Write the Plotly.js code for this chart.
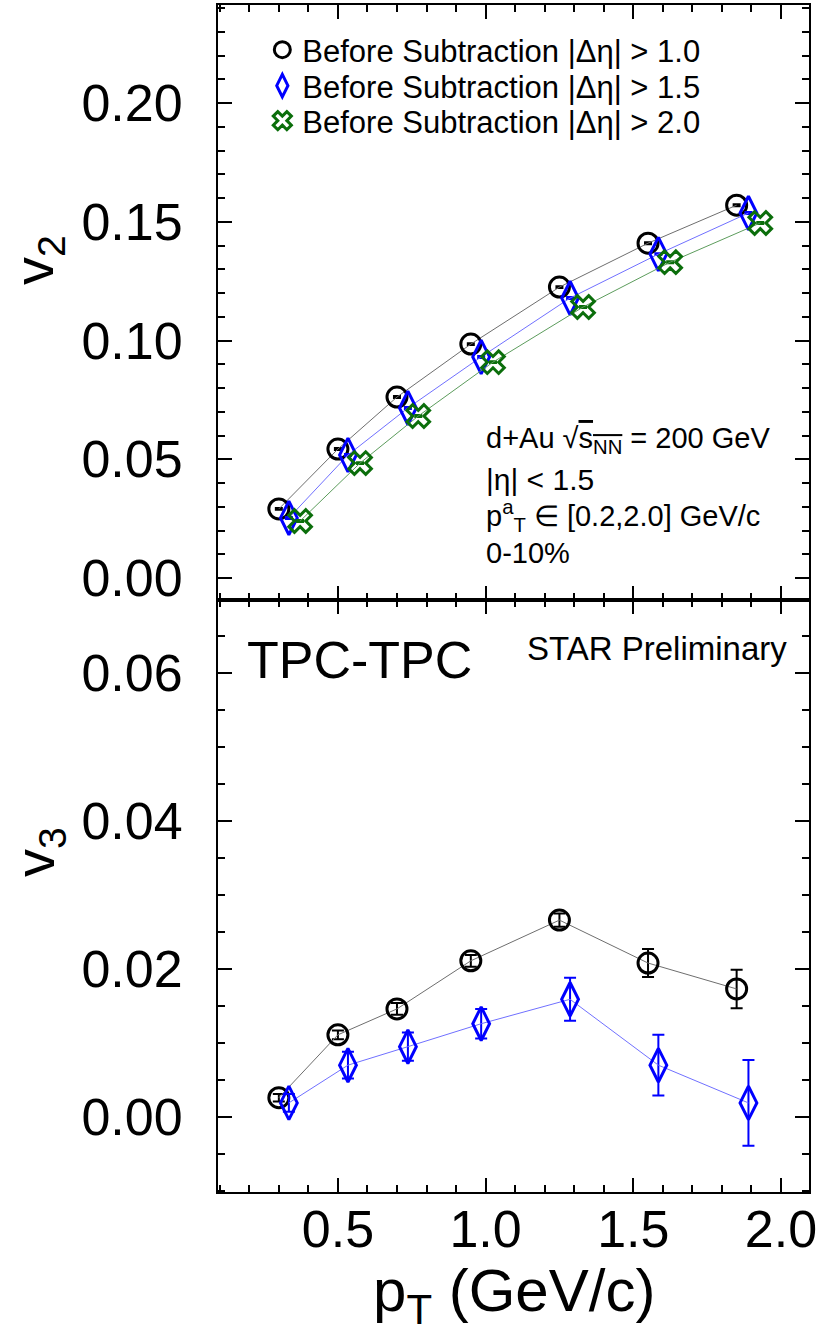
<!DOCTYPE html>
<html>
<head>
<meta charset="utf-8">
<script src="https://cdn.plot.ly/plotly-3.0.1.min.js"></script>
<style>html,body{margin:0;padding:0;background:#fff;}#chart{width:821px;height:1332px;}</style>
</head>
<body>
<div id="chart"></div>
<script>
// ---- data ----
const ptBlack = [0.30, 0.50, 0.70, 0.95, 1.25, 1.55, 1.85];
const ptBlue  = [0.334, 0.534, 0.737, 0.985, 1.286, 1.585, 1.89];
const ptGreen = [0.372, 0.575, 0.772, 1.025, 1.33, 1.625, 1.93];

const v2Eta10 = [0.0291, 0.0543, 0.0762, 0.0985, 0.1225, 0.1410, 0.1570];
const v2Eta15 = [0.0253, 0.0518, 0.0716, 0.0931, 0.1179, 0.1364, 0.1537];
const v2Eta20 = [0.0240, 0.0484, 0.0682, 0.0909, 0.1141, 0.1330, 0.1495];
const v2Err   = [0.0004, 0.0004, 0.0004, 0.0004, 0.0004, 0.0004, 0.0004];

const v3Eta10    = [0.0026, 0.0111, 0.0146, 0.0211, 0.0266, 0.0208, 0.0173];
const v3Eta10Err = [0.0005, 0.0006, 0.0008, 0.0008, 0.0009, 0.0019, 0.0026];
const v3Eta15    = [0.0019, 0.0070, 0.0095, 0.0126, 0.0159, 0.0070, 0.0019];
const v3Eta15Err = [0.0012, 0.0018, 0.0019, 0.0020, 0.0029, 0.0041, 0.0058];

const legendNames = ['Before Subtraction |Δη| > 1.0', 'Before Subtraction |Δη| > 1.5', 'Before Subtraction |Δη| > 2.0'];
const xTickVals = [0.5, 1.0, 1.5, 2.0];
const xTickText = ['0.5', '1.0', '1.5', '2.0'];
const v2TickVals = [0, 0.05, 0.10, 0.15, 0.20];
const v2TickText = ['0.00', '0.05', '0.10', '0.15', '0.20'];
const v3TickVals = [0, 0.02, 0.04, 0.06];
const v3TickText = ['0.00', '0.02', '0.04', '0.06'];

// ---- styles ----
const FONT = 'Liberation Sans, Arial, Helvetica, sans-serif';
const BLACK = '#000000', BLUE = '#0000ff', GREEN = '#0b6e0b';
const mkBlack = {symbol: 'circle-open', size: 20, color: BLACK, line: {color: BLACK, width: 3}};
const mkBlue  = {symbol: 'diamond-tall-open', size: 24, color: BLUE, line: {color: BLUE, width: 3}};
const mkGreen = {symbol: 'x-open', size: 20, color: GREEN, line: {color: GREEN, width: 3}};

function errs(arr, color, w) {
  return {type: 'data', array: arr, visible: true, color: color, thickness: 2, width: w};
}

const traces = [
  // top panel (v2)
  {x: ptBlack, y: v2Eta10, xaxis: 'x2', yaxis: 'y2', mode: 'lines+markers', showlegend: false,
   line: {color: '#6e6e6e', width: 1}, marker: mkBlack, error_y: errs(v2Err, BLACK, 4)},
  {x: ptBlue, y: v2Eta15, xaxis: 'x2', yaxis: 'y2', mode: 'lines+markers', showlegend: false,
   line: {color: '#7070ff', width: 1}, marker: mkBlue, error_y: errs(v2Err, BLUE, 4)},
  {x: ptGreen, y: v2Eta20, xaxis: 'x2', yaxis: 'y2', mode: 'lines+markers', showlegend: false,
   line: {color: '#5c9c5c', width: 1}, marker: mkGreen, error_y: errs(v2Err, GREEN, 4)},
  // bottom panel (v3)
  {x: ptBlack, y: v3Eta10, xaxis: 'x', yaxis: 'y', mode: 'lines+markers', showlegend: false,
   line: {color: '#6e6e6e', width: 1}, marker: mkBlack, error_y: errs(v3Eta10Err, BLACK, 6)},
  {x: ptBlue, y: v3Eta15, xaxis: 'x', yaxis: 'y', mode: 'lines+markers', showlegend: false,
   line: {color: '#7070ff', width: 1}, marker: mkBlue, error_y: errs(v3Eta15Err, BLUE, 6)},
  // legend entries
  {x: [null], y: [null], xaxis: 'x2', yaxis: 'y2', mode: 'markers', name: legendNames[0], marker: mkBlack, legend: 'legend'},
  {x: [null], y: [null], xaxis: 'x2', yaxis: 'y2', mode: 'markers', name: legendNames[1], marker: mkBlue, legend: 'legend2'},
  {x: [null], y: [null], xaxis: 'x2', yaxis: 'y2', mode: 'markers', name: legendNames[2], marker: mkGreen, legend: 'legend3'}
];

const split = (1192 - 600) / 1187;
const py = v => (1192 - v) / 1187;   // pixel row -> paper fraction
const px = v => (v - 218) / 591;     // pixel column -> paper fraction

const axBase = {
  showline: true, linecolor: BLACK, linewidth: 2, mirror: 'ticks',
  ticks: 'inside', ticklen: 14, tickwidth: 2, tickcolor: BLACK,
  showgrid: false, zeroline: false,
  tickfont: {family: FONT, size: 52, color: BLACK}
};

function legendAt(row) {
  return {x: 0.075, y: py(row), xanchor: 'left', yanchor: 'middle', bgcolor: 'rgba(0,0,0,0)',
          font: {family: FONT, size: 31, color: BLACK}, itemsizing: 'trace'};
}

const layout = {
  width: 821, height: 1332,
  margin: {l: 218, r: 12, t: 5, b: 140},
  paper_bgcolor: '#ffffff', plot_bgcolor: '#ffffff',
  font: {family: FONT, color: BLACK},
  showlegend: true,
  legend: legendAt(50),
  legend2: legendAt(86),
  legend3: legendAt(121),
  xaxis: Object.assign({}, axBase, {
    anchor: 'y', range: [0.094, 2.095], tickvals: xTickVals, ticktext: xTickText,
    ticklabelstandoff: -9,
    minor: {dtick: 0.1, tick0: 0, ticks: 'inside', ticklen: 7, tickwidth: 2, tickcolor: BLACK, showgrid: false}
  }),
  yaxis: Object.assign({}, axBase, {
    anchor: 'x', domain: [0, split], range: [-0.01014, 0.06986],
    tickvals: v3TickVals, ticktext: v3TickText, ticklabelstandoff: 23,
    minor: {dtick: 0.005, tick0: 0, ticks: 'inside', ticklen: 7, tickwidth: 2, tickcolor: BLACK, showgrid: false}
  }),
  xaxis2: Object.assign({}, axBase, {
    anchor: 'y2', matches: 'x', range: [0.094, 2.095], tickvals: xTickVals, showticklabels: false,
    minor: {dtick: 0.1, tick0: 0, ticks: 'inside', ticklen: 7, tickwidth: 2, tickcolor: BLACK, showgrid: false}
  }),
  yaxis2: Object.assign({}, axBase, {
    anchor: 'x2', domain: [split, 1], range: [-0.00926, 0.2413],
    tickvals: v2TickVals, ticktext: v2TickText, ticklabelstandoff: 23,
    minor: {dtick: 0.01, tick0: 0, ticks: 'inside', ticklen: 7, tickwidth: 2, tickcolor: BLACK, showgrid: false}
  }),
  annotations: [
    {xref: 'paper', yref: 'paper', x: px(484), y: py(440), xanchor: 'left', yanchor: 'middle', showarrow: false,
     text: 'd+Au √<span style="text-decoration:overline">s<sub>NN</sub></span> = 200 GeV', font: {family: FONT, size: 29, color: BLACK}},
    {xref: 'paper', yref: 'paper', x: px(484), y: py(479), xanchor: 'left', yanchor: 'middle', showarrow: false,
     text: '|η| &lt; 1.5', font: {family: FONT, size: 30, color: BLACK}},
    {xref: 'paper', yref: 'paper', x: px(484), y: py(516), xanchor: 'left', yanchor: 'middle', showarrow: false,
     text: 'p<sup>a</sup><sub>T</sub> ∈ [0.2,2.0] GeV/c', font: {family: FONT, size: 29, color: BLACK}},
    {xref: 'paper', yref: 'paper', x: px(484), y: py(553), xanchor: 'left', yanchor: 'middle', showarrow: false,
     text: '0-10%', font: {family: FONT, size: 29, color: BLACK}},
    {xref: 'paper', yref: 'paper', x: px(245), y: py(660), xanchor: 'left', yanchor: 'middle', showarrow: false,
     text: 'TPC-TPC', font: {family: FONT, size: 52, color: BLACK}},
    {xref: 'paper', yref: 'paper', x: px(789), y: py(648), xanchor: 'right', yanchor: 'middle', showarrow: false,
     text: 'STAR Preliminary', font: {family: FONT, size: 33, color: BLACK}},
    {xref: 'paper', yref: 'paper', x: px(38), y: py(260), xanchor: 'center', yanchor: 'middle', showarrow: false,
     borderpad: 0, textangle: -90, text: 'v<sub>2</sub>', font: {family: FONT, size: 56, color: BLACK}},
    {xref: 'paper', yref: 'paper', x: px(38), y: py(852), xanchor: 'center', yanchor: 'middle', showarrow: false,
     borderpad: 0, textangle: -90, text: 'v<sub>3</sub>', font: {family: FONT, size: 56, color: BLACK}},
    {xref: 'paper', yref: 'paper', x: px(514), y: py(1295), xanchor: 'center', yanchor: 'middle', showarrow: false,
     text: 'p<sub>T</sub> (GeV/c)', font: {family: FONT, size: 60, color: BLACK}}
  ]
};

Plotly.newPlot('chart', traces, layout, {staticPlot: true, displayModeBar: false});
</script>
</body>
</html>
